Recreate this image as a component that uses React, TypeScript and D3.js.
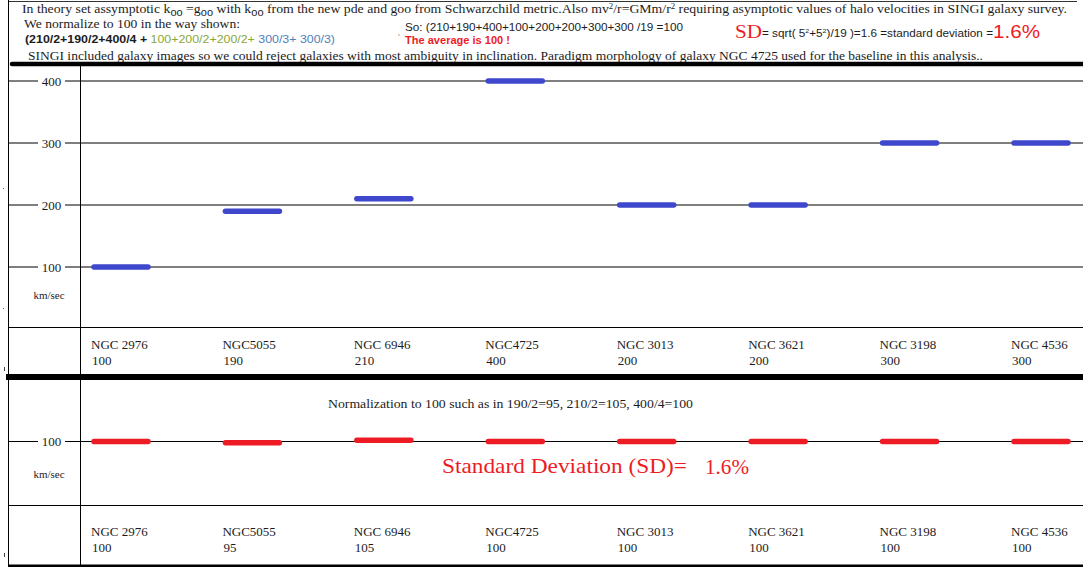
import React from "react";
import * as d3 from "d3";

const categories = ["NGC 2976", "NGC5055", "NGC 6946", "NGC4725", "NGC 3013", "NGC 3621", "NGC 3198", "NGC 4536"];
const velocities = [100, 190, 210, 400, 200, 200, 300, 300];
const normalized = [100, 95, 105, 100, 100, 100, 100, 100];
const upperTicks = [100, 200, 300, 400];
const lowerTicks = [100];

const W = 1083;
const H = 567;
const SERIF = "'Liberation Serif', 'Times New Roman', serif";
const SANS = "'Liberation Sans', Arial, sans-serif";
const TXT = "#1c1c1c";
const BLUE = "#3f48cc";
const RED = "#ed1c24";

export default function App() {
  const x = d3.scalePoint<string>().domain(categories).range([121, 1041]);
  const yUp = d3.scaleLinear().domain([100, 400]).range([267, 81]);
  const yLow = d3.scaleLinear().domain([95, 105]).range([442.8, 440.2]);
  const halfBar = 27;
  const leftX = 8.5;
  const axisX = 80.5;

  const tickLabel = (y: number, v: number, key: string) => (
    <g key={key}>
      <line x1={leftX} x2={W} y1={y} y2={y} stroke="#000" strokeWidth={1} />
      <rect x={38} y={y - 8} width={27} height={16} fill="#fff" />
      <text x={51.5} y={y + 4.5} textAnchor="middle" fontFamily={SERIF} fontSize={13} fill={TXT}>
        {v}
      </text>
    </g>
  );

  return (
    <svg width={W} height={H} style={{ position: "absolute", left: 0, top: 0, background: "#fff" }}>
      <rect x={0} y={0} width={W} height={H} fill="#fff" />

      {/* frame */}
      <line x1={leftX} x2={1077} y1={1.5} y2={1.5} stroke="#333" strokeWidth={1} />
      <line x1={leftX} x2={leftX} y1={0} y2={H} stroke="#000" strokeWidth={1} />

      {/* header */}
      <text x={22} y={13} fontFamily={SERIF} fontSize={12.5} fill={TXT} textLength={1045} lengthAdjust="spacingAndGlyphs">
        In theory set assymptotic k<tspan dy={3} fontFamily={SANS} fontSize={10}>oo</tspan>
        <tspan dy={-3}> =g</tspan><tspan dy={3} fontFamily={SANS} fontSize={10}>oo</tspan>
        <tspan dy={-3}> with k</tspan><tspan dy={3} fontFamily={SANS} fontSize={10}>oo</tspan>
        <tspan dy={-3}> from the new pde and goo from Schwarzchild metric.Also mv</tspan>
        <tspan dy={-4} fontSize={8}>2</tspan><tspan dy={4}>/r=GMm/r</tspan>
        <tspan dy={-4} fontSize={8}>2</tspan>
        <tspan dy={4}>  requiring  asymptotic values of halo velocities in SINGI galaxy survey.</tspan>
      </text>
      <text x={24} y={28} fontFamily={SERIF} fontSize={12} fill={TXT} textLength={216} lengthAdjust="spacingAndGlyphs">
        We normalize to 100 in the way shown:
      </text>
      <text x={405} y={31} fontFamily={SANS} fontSize={10.5} fill={TXT} textLength={278} lengthAdjust="spacingAndGlyphs">
        So:  (210+190+400+100+200+200+300+300 /19 =100
      </text>
      <text x={25} y={43} fontFamily={SANS} fontSize={11} fill={TXT} textLength={310} lengthAdjust="spacingAndGlyphs">
        <tspan fontWeight="bold">(210/2+190/2+400/4 + </tspan>
        <tspan fill="#8aa83a">100+200/2+200/2+  </tspan>
        <tspan fill="#4f81bd">300/3+ 300/3)</tspan>
      </text>
      <text x={398} y={40} fontFamily={SANS} fontSize={9} fill="#888">'</text>
      <text x={405} y={44} fontFamily={SANS} fontSize={11} fontWeight="bold" fill={RED} textLength={105} lengthAdjust="spacingAndGlyphs">
        The average is 100 !
      </text>
      <text x={735} y={38} fontFamily={SERIF} fontSize={19} fill={RED} textLength={27} lengthAdjust="spacingAndGlyphs">SD</text>
      <text x={762} y={37} fontFamily={SANS} fontSize={10} fill={TXT} textLength={231} lengthAdjust="spacingAndGlyphs">
        = sqrt( 5<tspan dy={-4} fontSize={6}>2</tspan><tspan dy={4}>+5</tspan>
        <tspan dy={-4} fontSize={6}>2</tspan><tspan dy={4}>)/19 )=1.6 =standard deviation =</tspan>
      </text>
      <text x={993} y={38} fontFamily={SANS} fontSize={19} fill={RED} textLength={47} lengthAdjust="spacingAndGlyphs">1.6%</text>
      <text x={28} y={60} fontFamily={SERIF} fontSize={12.5} fill={TXT} textLength={955} lengthAdjust="spacingAndGlyphs">
        SINGI included galaxy images so we could reject galaxies  with most ambiguity in inclination. Paradigm morphology of  galaxy NGC 4725 used for the  baseline in this analysis..
      </text>
      <line x1={12} x2={W} y1={64} y2={64} stroke="#000" strokeWidth={4.5} strokeLinecap="round" />

      {/* upper panel */}
      <line x1={axisX} x2={axisX} y1={64} y2={H} stroke="#000" strokeWidth={1} />
      {upperTicks.map((t) => tickLabel(yUp(t), t, "u" + t))}
      <text x={49} y={299} textAnchor="middle" fontFamily={SERIF} fontSize={11} fill={TXT}>km/sec</text>
      {categories.map((c, i) => (
        <line key={"ub" + c} x1={x(c)! - halfBar} x2={x(c)! + halfBar} y1={yUp(velocities[i])} y2={yUp(velocities[i])}
          stroke={BLUE} strokeWidth={5.5} strokeLinecap="round" />
      ))}
      <line x1={leftX} x2={W} y1={327.5} y2={327.5} stroke="#000" strokeWidth={1} />
      {categories.map((c, i) => (
        <g key={"ul" + c}>
          <text x={x(c)! - 30} y={349} fontFamily={SERIF} fontSize={13} fill={TXT}>{c}</text>
          <text x={x(c)! - 29} y={365} fontFamily={SERIF} fontSize={13} fill={TXT}>{velocities[i]}</text>
        </g>
      ))}
      <line x1={6} x2={W} y1={377} y2={377} stroke="#000" strokeWidth={6} />

      {/* lower panel */}
      <text x={328} y={408} fontFamily={SERIF} fontSize={12} fill={TXT} textLength={365} lengthAdjust="spacingAndGlyphs">
        Normalization to 100 such as in 190/2=95, 210/2=105, 400/4=100
      </text>
      {lowerTicks.map((t) => tickLabel(441.5, t, "l" + t))}
      <text x={49} y={478} textAnchor="middle" fontFamily={SERIF} fontSize={11} fill={TXT}>km/sec</text>
      {categories.map((c, i) => (
        <line key={"lb" + c} x1={x(c)! - halfBar} x2={x(c)! + halfBar} y1={yLow(normalized[i])} y2={yLow(normalized[i])}
          stroke={RED} strokeWidth={5.5} strokeLinecap="round" />
      ))}
      <text x={442} y={473} fontFamily={SERIF} fontSize={21} fill={RED} textLength={245} lengthAdjust="spacingAndGlyphs">
        Standard Deviation (SD)=
      </text>
      <text x={705} y={474} fontFamily={SERIF} fontSize={20} fill={RED} textLength={44} lengthAdjust="spacingAndGlyphs">1.6%</text>
      <line x1={leftX} x2={W} y1={505.5} y2={505.5} stroke="#000" strokeWidth={1} />
      {categories.map((c, i) => (
        <g key={"ll" + c}>
          <text x={x(c)! - 30} y={536} fontFamily={SERIF} fontSize={13} fill={TXT}>{c}</text>
          <text x={x(c)! - 29} y={552} fontFamily={SERIF} fontSize={13} fill={TXT}>{normalized[i]}</text>
        </g>
      ))}
      <line x1={8} x2={W} y1={566} y2={566} stroke="#000" strokeWidth={3} />

      {/* stray marks */}
      <rect x={3} y={188} width={1} height={1} fill="#666" />
      <rect x={3} y={308} width={1} height={1} fill="#666" />
      <rect x={4} y={367} width={1} height={4} fill="#444" />
      <rect x={4} y={553} width={1} height={4} fill="#444" />
    </svg>
  );
}
